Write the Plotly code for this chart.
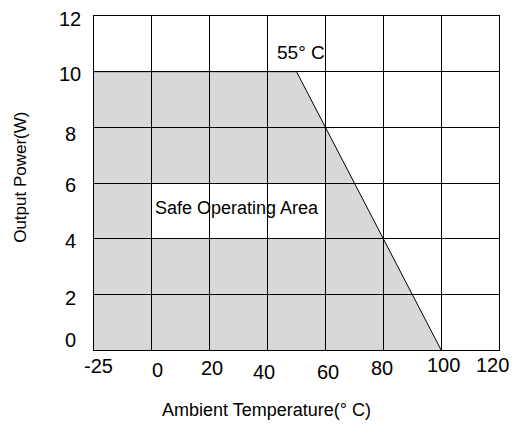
import numpy as np
import plotly.graph_objects as go

# ---- data ----
x_tick_temps = [-25, 0, 20, 40, 60, 80, 100, 120]
x_tick_labels = ["-25", "0", "20", "40", "60", "80", "100", "120"]
y_tick_values = [0, 2, 4, 6, 8, 10, 12]
y_tick_labels = ["0", "2", "4", "6", "8", "10", "12"]
derating_temp = [-25, 50, 100]
derating_power = [10, 10, 0]
knee_label = "55° C"
area_label = "Safe Operating Area"

# ---- layout helpers (pixel offsets of the hand-set labels) ----
x_lab_dx = [4.5, 6, 2.5, -3.8, 2.2, -0.8, 2.6, -7]
x_lab_dy = [-15.8, -20, -17.8, -22.3, -21.8, -17.8, -15.3, -15.3]
y_lab_dy = [9.7, -3.7, -2.4, -2, -6.7, -2.3, -2.5]

NUM = "Liberation Sans, Arial, sans-serif"
REG = "Liberation Sans, Arial, sans-serif"

# map temperatures onto the (uneven) category-like axis
idx = list(range(len(x_tick_temps)))
cx = np.interp(derating_temp, x_tick_temps, idx)
cy = derating_power

fig = go.Figure()

# derating line
fig.add_trace(go.Scatter(
    x=cx, y=cy, mode="lines",
    line=dict(color="black", width=1), hoverinfo="skip", showlegend=False))

# gray safe operating area (below gridlines)
path = f"M {cx[0]},0 " + " ".join(f"L {a},{b}" for a, b in zip(cx, cy)) + " Z"
shapes = [
    dict(type="path", path=path, xref="x", yref="y", layer="below",
         fillcolor="#d8d8d8", line=dict(width=0)),
    dict(type="rect", xref="x", yref="y", x0=1, x1=4, y0=4, y1=6, layer="below",
         fillcolor="white", line=dict(width=0)),
]

annotations = []
for i, lab in enumerate(x_tick_labels):
    annotations.append(dict(
        x=idx[i], y=0, xref="x", yref="paper", text=lab, showarrow=False,
        xanchor="center", yanchor="middle", xshift=x_lab_dx[i], yshift=x_lab_dy[i],
        font=dict(family=NUM, size=20, color="black")))
for v, lab, dy in zip(y_tick_values, y_tick_labels, y_lab_dy):
    annotations.append(dict(
        x=0, y=v, xref="paper", yref="y", text=lab, showarrow=False,
        xanchor="center", yanchor="middle", xshift=-24, yshift=dy,
        font=dict(family=NUM, size=20, color="black")))

annotations += [
    dict(x=0.427, y=0, xref="paper", yref="paper", text="Ambient Temperature(° C)",
         showarrow=False, xanchor="center", yanchor="middle", yshift=-59.8,
         font=dict(family=NUM, size=18, color="black")),
    dict(x=0, y=0.517, xref="paper", yref="paper", text="Output Power(W)",
         showarrow=False, textangle=-90, xanchor="center", yanchor="middle", xshift=-73.5,
         font=dict(family=REG, size=17, color="black")),
    dict(x=cx[1], y=cy[1], xref="x", yref="y", text=knee_label, showarrow=False,
         xanchor="center", yanchor="middle", xshift=4, yshift=18.7,
         font=dict(family=NUM, size=19, color="black")),
    dict(x=2.467, y=5.09, xref="x", yref="y", text=area_label, showarrow=False,
         xanchor="center", yanchor="middle",
         font=dict(family=REG, size=18, color="black")),
]

fig.update_layout(
    width=518, height=426,
    margin=dict(l=86, r=27, t=8, b=84, pad=0),
    paper_bgcolor="white", plot_bgcolor="white",
    shapes=shapes, annotations=annotations,
    showlegend=False,
)
fig.update_xaxes(
    range=[0, 7], tickvals=idx, showticklabels=False, ticks="",
    showgrid=True, gridcolor="black", gridwidth=1,
    showline=True, mirror=True, linecolor="black", linewidth=1,
    zeroline=True, zerolinecolor="black", zerolinewidth=2, fixedrange=True)
fig.update_yaxes(
    range=[0, 12], tickvals=y_tick_values, showticklabels=False, ticks="",
    showgrid=True, gridcolor="black", gridwidth=1,
    showline=True, mirror=True, linecolor="black", linewidth=1,
    zeroline=True, zerolinecolor="black", zerolinewidth=2, fixedrange=True)

fig.write_html("out.html")
